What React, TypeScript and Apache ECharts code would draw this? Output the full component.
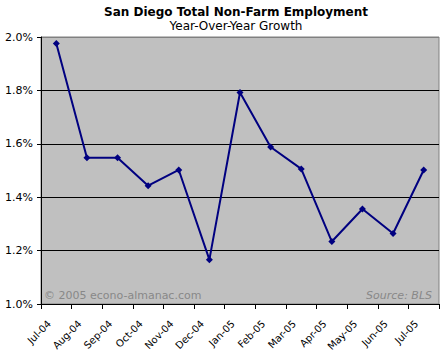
import React, { useEffect, useRef } from "react";
import * as echarts from "echarts";

const categories = ["Jul-04", "Aug-04", "Sep-04", "Oct-04", "Nov-04", "Dec-04", "Jan-05", "Feb-05", "Mar-05", "Apr-05", "May-05", "Jun-05", "Jul-05"];
const growth = [1.976, 1.548, 1.548, 1.443, 1.502, 1.166, 1.792, 1.588, 1.506, 1.234, 1.356, 1.264, 1.502];
const titleText = "San Diego Total Non-Farm Employment";
const subtitleText = "Year-Over-Year Growth";
const copyrightText = "© 2005 econo-almanac.com";
const sourceText = "Source: BLS";

const FONT = "'DejaVu Sans', Verdana, sans-serif";

export default function App() {
  const ref = useRef<HTMLDivElement>(null);
  useEffect(() => {
    if (!ref.current) return;
    const chart = echarts.init(ref.current, null, { renderer: "svg" });
    chart.setOption({
      animation: false,
      backgroundColor: "#ffffff",
      textStyle: { fontFamily: FONT },
      grid: {
        left: 41,
        right: 7,
        top: 37,
        bottom: 56,
        show: true,
        backgroundColor: "#C0C0C0",
        borderColor: "#808080",
        borderWidth: 1,
        containLabel: false,
        outerBoundsMode: "none",
      },
      xAxis: {
        type: "category",
        data: categories,
        boundaryGap: true,
        axisLine: { lineStyle: { color: "#000", width: 1 } },
        axisTick: { show: true, length: 5, lineStyle: { color: "#000" } },
        axisLabel: {
          rotate: 45,
          interval: 0,
          color: "#000",
          fontSize: 10,
          fontFamily: FONT,
          margin: 11,
          padding: [0, 10, 0, 0],
        },
        splitLine: { show: false },
      },
      yAxis: {
        type: "value",
        min: 1.0,
        max: 2.0,
        interval: 0.2,
        axisLine: { show: true, lineStyle: { color: "#000", width: 1 } },
        axisTick: { show: true, length: 4, lineStyle: { color: "#000" } },
        axisLabel: {
          color: "#000",
          fontSize: 11,
          fontFamily: FONT,
          margin: 8,
          formatter: (v: number) => v.toFixed(1) + "%",
        },
        splitLine: {
          show: true,
          lineStyle: { color: ["#000", "#000", "#000", "#000", "#000", "#808080"], width: 1 },
        },
      },
      series: [
        {
          type: "line",
          data: growth,
          symbol: "diamond",
          symbolSize: 7,
          lineStyle: { color: "#000080", width: 2 },
          itemStyle: { color: "#000080" },
          z: 5,
        },
      ],
      graphic: [
        {
          type: "text",
          x: 236,
          y: 12,
          style: {
            text: titleText,
            fontFamily: FONT,
            fontSize: 12,
            fontWeight: "bold",
            fill: "#000",
            align: "center",
            verticalAlign: "middle",
          },
        },
        {
          type: "text",
          x: 236,
          y: 26,
          style: {
            text: subtitleText,
            fontFamily: FONT,
            fontSize: 12,
            fill: "#000",
            align: "center",
            verticalAlign: "middle",
          },
        },
        {
          type: "text",
          x: 44,
          y: 295,
          z: 10,
          style: {
            text: copyrightText,
            fontFamily: FONT,
            fontSize: 11,
            fill: "#888888",
            align: "left",
            verticalAlign: "middle",
          },
        },
        {
          type: "text",
          x: 432,
          y: 295,
          z: 10,
          style: {
            text: sourceText,
            fontFamily: FONT,
            fontSize: 11,
            fontStyle: "italic",
            fill: "#888888",
            align: "right",
            verticalAlign: "middle",
          },
        },
      ],
    });
    return () => chart.dispose();
  }, []);
  return (
    <div
      ref={ref}
      style={{ position: "fixed", left: 0, top: 0, width: 446, height: 360 }}
    />
  );
}
